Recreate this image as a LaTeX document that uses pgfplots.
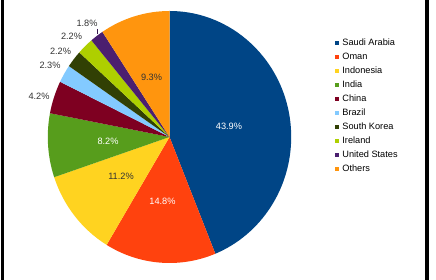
\documentclass[border=0pt]{standalone}
\usepackage{pgfplots}
\pgfplotsset{compat=1.18}
\usepackage{pgfplotstable}
\usepackage{fontspec}
\setmainfont{Liberation Sans}
\definecolor{cSA}{HTML}{004586}
\definecolor{cOM}{HTML}{FF420E}
\definecolor{cID}{HTML}{FFD320}
\definecolor{cIN}{HTML}{579D1C}
\definecolor{cCN}{HTML}{7E0021}
\definecolor{cBR}{HTML}{83CAFF}
\definecolor{cKR}{HTML}{314004}
\definecolor{cIE}{HTML}{AECF00}
\definecolor{cUS}{HTML}{4B1F6F}
\definecolor{cOT}{HTML}{FF950E}
\definecolor{lbl}{HTML}{333333}

\pgfplotstableread[col sep=comma]{
name,value,color
Saudi Arabia,43.9,cSA
Oman,14.8,cOM
Indonesia,11.2,cID
India,8.2,cIN
China,4.2,cCN
Brazil,2.3,cBR
South Korea,2.2,cKR
Ireland,2.2,cIE
United States,1.8,cUS
Others,9.3,cOT
}\piedata

\newcommand{\lfont}{\fontsize{9.2}{10}\selectfont}

\begin{document}
\begin{tikzpicture}
% cumulative angles (clockwise from 12 o'clock); total = 100.1
\xdef\cum{0}
\foreach \i in {0,...,9}{%
  \pgfplotstablegetelem{\i}{value}\of\piedata
  \pgfmathsetmacro\s{90-3.596404*\cum}%
  \pgfmathsetmacro\newcum{\cum+\pgfplotsretval}%
  \pgfmathsetmacro\e{90-3.596404*\newcum}%
  \expandafter\xdef\csname pieS\i\endcsname{\s}%
  \expandafter\xdef\csname pieE\i\endcsname{\e}%
  \xdef\cum{\newcum}%
  \pgfplotstablegetelem{\i}{color}\of\piedata
  \expandafter\xdef\csname pieC\i\endcsname{\pgfplotsretval}%
}
\useasboundingbox (0,0) rectangle (436pt,280pt);
\fill[black] (1pt,0) rectangle (4pt,280pt);
\fill[black] (425pt,0) rectangle (429.3pt,280pt);
\begin{axis}[
  at={(0,0)}, anchor=south west,
  x=1pt, y=1pt,
  xmin=0, xmax=436, ymin=0, ymax=280,
  hide axis, clip=false,
  legend style={at={(axis cs:335,242)}, anchor=north west, draw=none, fill=none,
    inner sep=0pt, font=\lfont, row sep=4.3pt, column sep=2.5pt,
    nodes={inner sep=0.5pt, text height=6.9pt, text depth=1.8pt, font=\lfont}},
  legend cell align=left,
  legend image code/.code={\fill[#1, draw=none] (0pt,-2.1pt) rectangle (4.2pt,2.1pt);},
]
\pgfplotsinvokeforeach{0,...,9}{%
  \fill[\csname pieC#1\endcsname]
    (axis cs:169.5,143) -- ++(\csname pieS#1\endcsname:121.7pt and 126pt)
    arc[start angle=\csname pieS#1\endcsname, end angle=\csname pieE#1\endcsname,
        x radius=121.7pt, y radius=126pt] -- cycle;
}
\addlegendimage{fill=cSA, draw=none}
\addlegendimage{fill=cOM, draw=none}
\addlegendimage{fill=cID, draw=none}
\addlegendimage{fill=cIN, draw=none}
\addlegendimage{fill=cCN, draw=none}
\addlegendimage{fill=cBR, draw=none}
\addlegendimage{fill=cKR, draw=none}
\addlegendimage{fill=cIE, draw=none}
\addlegendimage{fill=cUS, draw=none}
\addlegendimage{fill=cOT, draw=none}
\legend{Saudi Arabia,Oman,Indonesia,India,China,Brazil,South Korea,Ireland,United States,Others}
% labels
\begin{scope}[every node/.style={font=\lfont, inner sep=0pt}]
\node[white] at (axis cs:229,154) {43.9\%};
\node[white] at (axis cs:162.5,79) {14.8\%};
\node[lbl] at (axis cs:121,103.5) {11.2\%};
\node[white] at (axis cs:108,139) {8.2\%};
\node[lbl] at (axis cs:151.5,203) {9.3\%};
\node[lbl] at (axis cs:39,184) {4.2\%};
\node[lbl] at (axis cs:50,215) {2.3\%};
\node[lbl] at (axis cs:60.5,229) {2.2\%};
\node[lbl] at (axis cs:71.5,243.5) {2.2\%};
\node[lbl] at (axis cs:87,256.5) {1.8\%};
\end{scope}
\draw[cUS!70!black, line width=0.6pt] (axis cs:97.3,251) -- (axis cs:97.3,246);
\end{axis}
\end{tikzpicture}
\end{document}
